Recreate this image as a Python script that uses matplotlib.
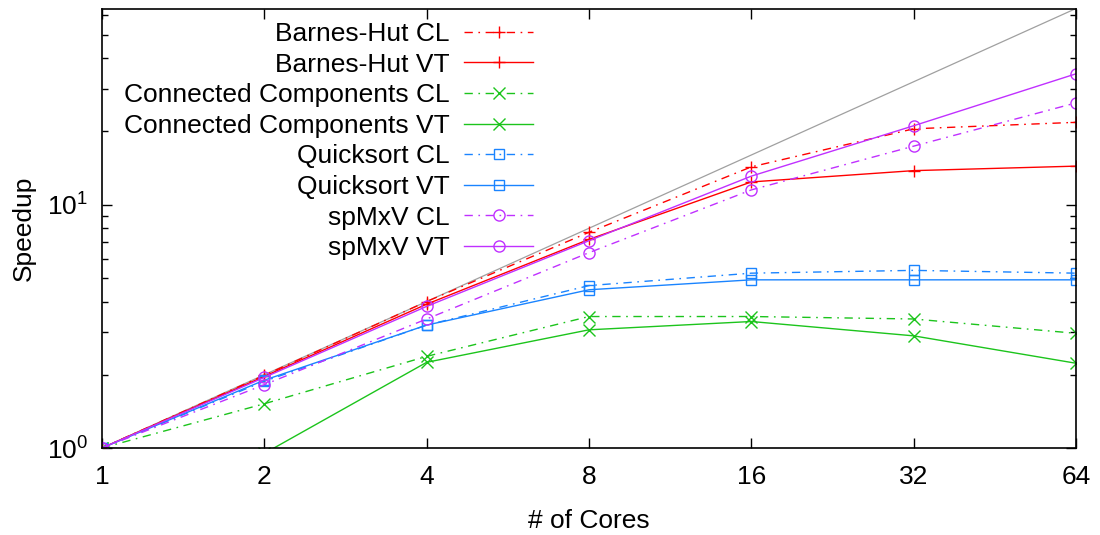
import matplotlib
matplotlib.use("Agg")
import matplotlib.pyplot as plt
from matplotlib.ticker import FixedLocator, FixedFormatter, LogLocator, NullFormatter

plt.rcParams['font.family'] = ['Liberation Sans', 'DejaVu Sans']
plt.rcParams['font.size'] = 19

cores = [1, 2, 4, 8, 16, 32, 64]
x_tick_labels = ["1", "2", "4", "8", "16", "32", "64"]

bh_cl = [1.0, 1.99, 4.0, 7.7, 14.3, 20.5, 21.8]
bh_vt = [1.0, 1.97, 3.9, 7.2, 12.4, 13.8, 14.4]
cc_cl = [1.0, 1.52, 2.38, 3.47, 3.47, 3.39, 2.96]
cc_vt = [1.0, 0.95, 2.25, 3.06, 3.31, 2.89, 2.23]
qs_cl = [1.0, 1.88, 3.2, 4.65, 5.23, 5.37, 5.23]
qs_vt = [1.0, 1.9, 3.2, 4.47, 4.91, 4.91, 4.91]
sp_cl = [1.0, 1.82, 3.39, 6.35, 11.5, 17.4, 26.2]
sp_vt = [1.0, 1.95, 3.82, 7.11, 13.1, 21.1, 34.5]
ideal = [1, 2, 4, 8, 16, 32, 64]

labels = ["Barnes-Hut CL", "Barnes-Hut VT",
          "Connected Components CL", "Connected Components VT",
          "Quicksort CL", "Quicksort VT",
          "spMxV CL", "spMxV VT"]
series = [bh_cl, bh_vt, cc_cl, cc_vt, qs_cl, qs_vt, sp_cl, sp_vt]

RED = "#ff0000"
GREEN = "#1cc41c"
BLUE = "#1a84ff"
PURPLE = "#c030ff"
colors = [RED, RED, GREEN, GREEN, BLUE, BLUE, PURPLE, PURPLE]
markers = ["+", "+", "x", "x", "s", "s", "o", "o"]
msizes = [9, 9, 8, 8, 7, 7, 8, 8]
dashdot = (0, (6, 4, 1.2, 4))

fig = plt.figure(figsize=(11, 5.35), dpi=100)
ax = fig.add_axes([102/1100, 1-448/535, (1076-102)/1100, (448-8.5)/535])

ax.plot(cores, ideal, color="#a0a0a0", lw=0.9, zorder=1)
for i, (ys, lab) in enumerate(zip(series, labels)):
    ls = dashdot if i % 2 == 0 else "-"
    ax.plot(cores, ys, color=colors[i], lw=1.0, linestyle=ls,
            marker=markers[i], markersize=msizes[i], markerfacecolor="none",
            markeredgecolor=colors[i], markeredgewidth=1.0, label=lab, zorder=2)

ax.set_xscale("log", base=2)
ax.set_yscale("log")
ax.set_xlim(1, 64)
ax.set_ylim(1, 64)
ax.xaxis.set_major_locator(FixedLocator(cores))
ax.xaxis.set_major_formatter(FixedFormatter(x_tick_labels))
ax.xaxis.set_minor_locator(FixedLocator([]))
ax.yaxis.set_major_locator(LogLocator(base=10))
ax.yaxis.set_minor_locator(LogLocator(base=10, subs=range(2, 10)))
ax.yaxis.set_minor_formatter(NullFormatter())

ax.tick_params(which="major", direction="in", length=7, width=1, top=True, right=True, pad=12)
ax.tick_params(which="minor", direction="in", length=4.5, width=1, top=True, right=True)
ax.tick_params(axis="y", which="major", pad=10)
for s in ax.spines.values():
    s.set_linewidth(1.2)

ax.set_xlabel("# of Cores", labelpad=15)
ax.set_ylabel("Speedup", labelpad=8)

leg = ax.legend(loc="upper right", bbox_to_anchor=(533/1100, 1-22/535),
                bbox_transform=fig.transFigure, frameon=False, markerfirst=False,
                numpoints=1, handlelength=2.6, handletextpad=0.55,
                labelspacing=0.25, borderpad=0, borderaxespad=0)

fig.savefig("out.png", dpi=100)
